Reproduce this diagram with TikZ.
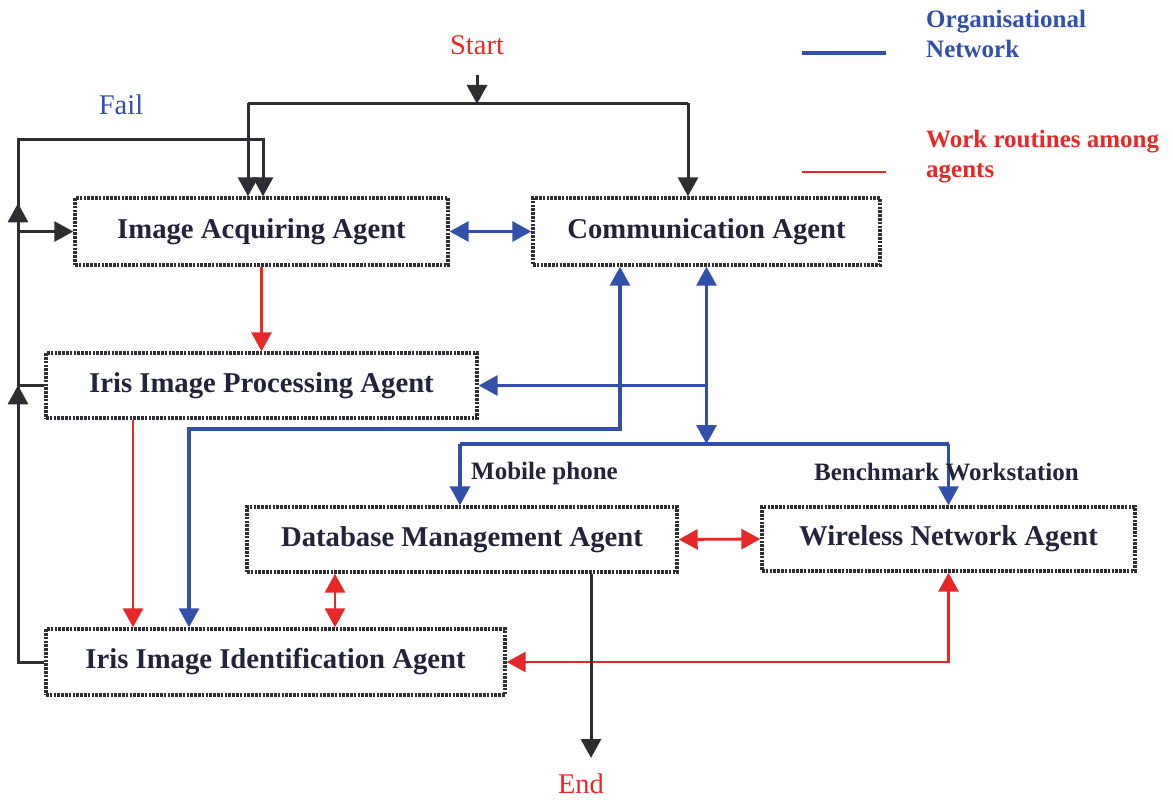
\documentclass[tikz,border=0pt]{standalone}
\usepackage{fontspec}
\setmainfont{Liberation Serif}
\usetikzlibrary{arrows.meta,decorations.markings}
\definecolor{cblue}{RGB}{50,80,170}
\definecolor{cred}{RGB}{232,40,40}
\definecolor{cblk}{RGB}{45,45,50}
\definecolor{ctext}{RGB}{35,35,60}
\begin{document}
\begin{tikzpicture}[x=1pt,y=-1pt,
 agent/.style={draw=cblk, line width=3.4pt, dash pattern=on 2.6pt off 1.2pt, text=ctext, font=\fontsize{28.7}{34}\selectfont\bfseries, inner sep=0pt},
 tip/.style={-{Triangle[length=19pt 0 0,width=20pt 0 0]}},
 both/.style={{Triangle[length=19pt 0 0,width=20pt 0 0]}-{Triangle[length=19pt 0 0,width=20pt 0 0]}},
 blk/.style={draw=cblk,line width=3pt},
 blu/.style={draw=cblue,line width=3.2pt},
 rd/.style={draw=cred,line width=2.8pt},
 lbl/.style={font=\fontsize{25}{30}\selectfont\bfseries, text=ctext, inner sep=0pt},
 plain/.style={font=\fontsize{28.5}{34}\selectfont, inner sep=0pt}
]
\useasboundingbox (0,0) rectangle (1173,800);

% agents
\node[agent, minimum width=373, minimum height=67] (iaa) at (261.5,231.5) {Image Acquiring Agent};
\node[agent, minimum width=347, minimum height=67] (ca) at (706.5,231.5) {Communication Agent};
\node[agent, minimum width=431, minimum height=65] (iipa) at (261.5,385.5) {Iris Image Processing Agent};
\node[agent, minimum width=430, minimum height=65] (dma) at (462,539.5) {Database Management Agent};
\node[agent, minimum width=373, minimum height=64] (wna) at (948.5,539) {Wireless Network Agent};
\node[agent, minimum width=459, minimum height=66] (iiia) at (275.5,662) {Iris Image Identification Agent};

% start / fail / end
\node[plain, text=cred] (start) at (477,45) {Start};
\node[plain, text=cblue] (fail) at (121,105) {Fail};
\node[plain, text=cred] (end) at (581,784) {End};

% start connectors
\coordinate (s0) at (477,75);
\coordinate (sj) at (477,104);
\coordinate (sjl) at (248,103);
\coordinate (sjr) at (688,103);
\draw[blk,tip] (s0) -- (sj);
\draw[blk] (sjl) -- (sjr);
\draw[blk,tip] (sjl) -- (sjl |- iaa.north);
\draw[blk,tip] (sjr) -- (sjr |- ca.north);

% fail loop
\coordinate (fl) at (18,139);
\coordinate (fr) at (263,139);
\draw[blk,tip,postaction={decorate},decoration={markings,
  mark=at position 303pt with {\arrow{Triangle[length=19pt 0 0,width=20pt 0 0]}},
  mark=at position 485pt with {\arrow{Triangle[length=19pt 0 0,width=20pt 0 0]}}}]
  (iiia.west) -| (fl) -- (fr) -- (fr |- iaa.north);
\draw[blk] (iipa.west) -- (iipa.west -| fl);
\draw[blk,tip] (iaa.west -| fl) -- (iaa.west);

% work routines (red)
\coordinate (r1) at (133,0);
\coordinate (r2) at (335,0);
\draw[rd,tip] (iaa.south) -- (iipa.north);
\draw[rd,tip] (iipa.south -| r1) -- (iiia.north -| r1);
\draw[rd,both] (dma.south -| r2) -- (iiia.north -| r2);
\draw[rd,both] (dma.east) -- (wna.west);
\draw[rd,both] (wna.south) |- (iiia.east);

% organisational network (blue)
\draw[blu,both] (iaa.east) -- (ca.west);
\coordinate (c1) at (620,429);
\coordinate (c2) at (189,429);
\draw[blu,both] (ca.south -| c1) -- (c1) -- (c2) -- (c2 |- iiia.north);
\coordinate (h1) at (460,444);
\coordinate (h2) at (948.5,444);
\draw[blu,both] (ca.south) -- (ca.south |- h1);
\draw[blu,tip] (ca.south |- iipa.east) -- (iipa.east);
\draw[blu] (h1) -- (h2);
\draw[blu,tip] (h1) -- (h1 |- dma.north);
\draw[blu,tip] (h2) -- (wna.north);

% end
\coordinate (e1) at (591,0);
\coordinate (e2) at (591,758);
\draw[blk,tip] (dma.south -| e1) -- (e2);

% labels
\node[lbl, anchor=west] (mob) at (471,473) {Mobile phone};
\node[lbl, anchor=west] (bench) at (814,472) {Benchmark Workstation};

% legend
\coordinate (lg1a) at (802,53);
\coordinate (lg1b) at (886,53);
\coordinate (lg2a) at (802,172);
\coordinate (lg2b) at (886,172);
\draw[blu] (lg1a) -- (lg1b);
\draw[rd] (lg2a) -- (lg2b);
\node[lbl, text=cblue, anchor=base west] (org1) at (926,28) {Organisational};
\node[lbl, text=cblue, anchor=base west] (org2) at (926,58) {Network};
\node[lbl, text=cred, anchor=base west] (wr1) at (926,147) {Work routines among};
\node[lbl, text=cred, anchor=base west] (wr2) at (926,177) {agents};
\end{tikzpicture}
\end{document}
